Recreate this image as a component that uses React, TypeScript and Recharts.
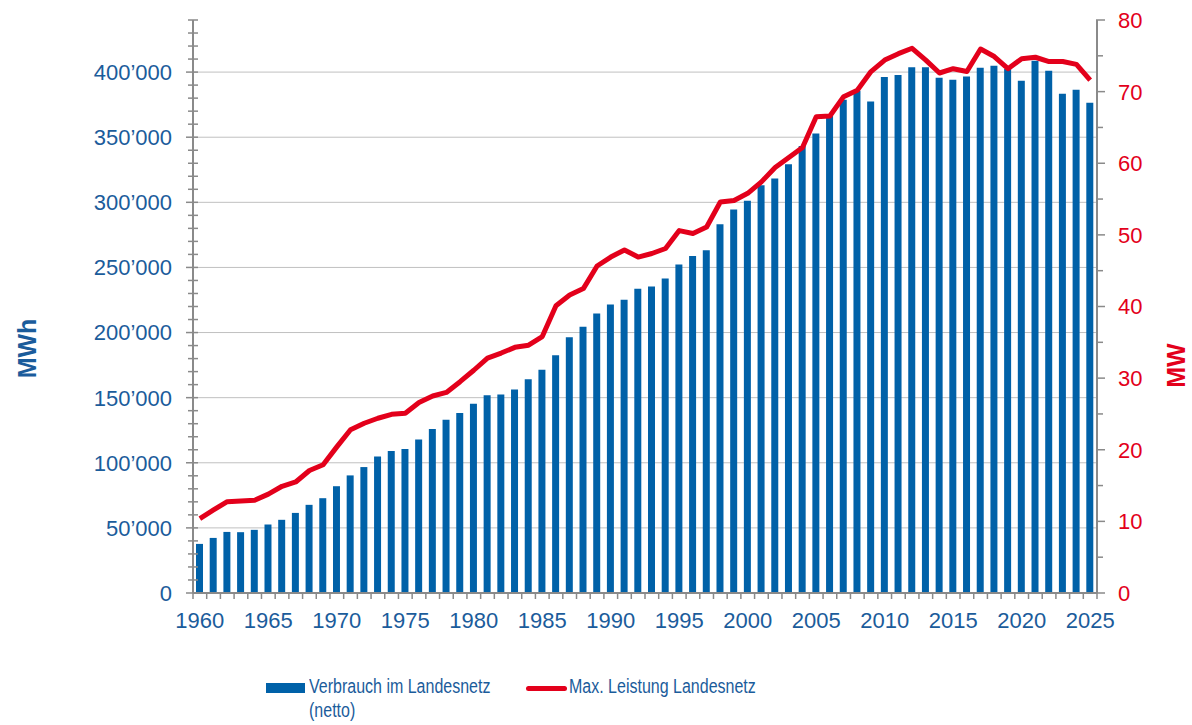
import React from 'react'
import {
  ComposedChart, Bar, Line, XAxis, YAxis, CartesianGrid
} from 'recharts'

// Stromverbrauch Landesnetz 1960-2025
const years = [
  1960, 1961, 1962, 1963, 1964, 1965, 1966, 1967, 1968, 1969,
  1970, 1971, 1972, 1973, 1974, 1975, 1976, 1977, 1978, 1979,
  1980, 1981, 1982, 1983, 1984, 1985, 1986, 1987, 1988, 1989,
  1990, 1991, 1992, 1993, 1994, 1995, 1996, 1997, 1998, 1999,
  2000, 2001, 2002, 2003, 2004, 2005, 2006, 2007, 2008, 2009,
  2010, 2011, 2012, 2013, 2014, 2015, 2016, 2017, 2018, 2019,
  2020, 2021, 2022, 2023, 2024, 2025,
]

// Verbrauch im Landesnetz (netto), MWh
const verbrauch = [
  37700, 42300, 46900, 46700, 48500, 52600, 56200, 61500, 67700, 72800,
  82000, 90300, 96700, 104900, 109000, 110500, 117900, 125900, 133100, 138200,
  145400, 151800, 152400, 156200, 164100, 171500, 182600, 196400, 204400, 214600,
  221500, 225200, 233600, 235400, 241500, 252300, 258700, 263100, 283100, 294400,
  301300, 313100, 318200, 329200, 343300, 352800, 366400, 378700, 385600, 377400,
  396200, 397800, 403800, 403800, 395600, 394100, 396700, 403300, 404900, 402300,
  393300, 408700, 401000, 383300, 386400, 376400,
]

// Max. Leistung Landesnetz, MW
const leistung = [
  10.4, 11.6, 12.75, 12.85, 12.95, 13.8, 14.9, 15.5, 17.1, 17.9,
  20.4, 22.8, 23.7, 24.4, 24.95, 25.1, 26.6, 27.5, 28.0, 29.5,
  31.1, 32.8, 33.5, 34.3, 34.6, 35.8, 40.1, 41.6, 42.5, 45.65,
  46.9, 47.9, 46.9, 47.4, 48.1, 50.6, 50.2, 51.1, 54.6, 54.8,
  55.8, 57.4, 59.4, 60.8, 62.2, 66.5, 66.6, 69.3, 70.2, 72.8,
  74.4, 75.3, 76.05, 74.4, 72.6, 73.2, 72.8, 75.95, 74.9, 73.2,
  74.6, 74.8, 74.2, 74.2, 73.8, 71.6,
]

const leftTicks = [
  0, 10000, 20000, 30000, 40000, 50000, 60000, 70000, 80000, 90000,
  100000, 110000, 120000, 130000, 140000, 150000, 160000, 170000, 180000, 190000,
  200000, 210000, 220000, 230000, 240000, 250000, 260000, 270000, 280000, 290000,
  300000, 310000, 320000, 330000, 340000, 350000, 360000, 370000, 380000, 390000,
  400000, 410000, 420000, 430000, 440000,
]
const leftGrid = [50000, 100000, 150000, 200000, 250000, 300000, 350000, 400000]
const rightTicks = [0, 5, 10, 15, 20, 25, 30, 35, 40, 45, 50, 55, 60, 65, 70, 75, 80]

const data = years.map((year, i) => ({ year, mwh: verbrauch[i], mw: leistung[i] }))

const BLUE_BAR = '#0061A8'
const BLUE_TXT = '#1B5C9B'
const RED = '#E3001B'
const AXIS = '#8A8A8A'
const FONT = '"Liberation Sans", Arial, sans-serif'

const fmtThousands = (v: number) => String(v).replace(/\B(?=(\d{3})+(?!\d))/g, '\u2019')

const LeftTick = ({ x, y, payload }: any) => {
  const v = payload.value
  const major = v % 50000 === 0
  return (
    <g>
      <line x1={x - (major ? 7 : 5)} x2={x + 5} y1={y} y2={y} stroke={AXIS} strokeWidth={1.5} />
      {major && v <= 400000 && (
        <text x={x - 21} y={y} dy="0.36em" textAnchor="end" fill={BLUE_TXT} fontSize={22} fontFamily={FONT}>
          {fmtThousands(v)}
        </text>
      )}
    </g>
  )
}

const RightTick = ({ x, y, payload }: any) => {
  const v = payload.value
  const major = v % 10 === 0
  return (
    <g>
      <line x1={x - 1} x2={x + (major ? 8 : 6)} y1={y} y2={y} stroke={AXIS} strokeWidth={1.5} />
      {major && (
        <text x={x + 21} y={y} dy="0.36em" textAnchor="start" fill={RED} fontSize={22} fontFamily={FONT}>
          {v}
        </text>
      )}
    </g>
  )
}

const YearTick = ({ x, y, payload, index }: any) => {
  const half = payload.offset || 904 / 66 / 2
  const last = index === years.length - 1
  return (
    <g>
      <line x1={x - half} x2={x - half} y1={y} y2={y + 6} stroke={AXIS} strokeWidth={1.5} />
      {last && <line x1={x + half} x2={x + half} y1={y} y2={y + 6} stroke={AXIS} strokeWidth={1.5} />}
      {payload.value % 5 === 0 && (
        <text x={x} y={y + 35} textAnchor="middle" fill={BLUE_TXT} fontSize={22} fontFamily={FONT}>
          {payload.value}
        </text>
      )}
    </g>
  )
}

const axisTitle = (text: string, color: string, dx: number, dy: number) => (props: any) => {
  const vb = props.viewBox || { x: 0, y: 0, width: 0, height: 0 }
  const cx = vb.x + dx
  const cy = vb.y + vb.height / 2 + dy
  return (
    <text
      x={cx} y={cy} transform={`rotate(-90 ${cx} ${cy})`}
      textAnchor="middle" dominantBaseline="central"
      fill={color} fontSize={25} fontWeight="bold" fontFamily={FONT}
    >
      {text}
    </text>
  )
}

// condensed look of the legend text (no narrow font installed)
const legendFont: React.CSSProperties = {
  position: 'absolute',
  fontFamily: FONT,
  fontSize: 20,
  lineHeight: '24px',
  color: BLUE_TXT,
  whiteSpace: 'nowrap',
  transform: 'scaleX(0.8)',
  transformOrigin: '0 0',
}

export default function App() {
  return (
    <div style={{ position: 'absolute', left: 0, top: 0, width: 1192, height: 725, background: '#fff' }}>
      <ComposedChart
        width={1192}
        height={725}
        data={data}
        margin={{ top: 20, right: 0, left: 0, bottom: 92 }}
      >
        <CartesianGrid
          xAxisId="x"
          yAxisId="left"
          vertical={false}
          horizontalValues={leftGrid}
          stroke="#C0C0C0"
          strokeWidth={1}
        />
        <XAxis
          xAxisId="x"
          dataKey="year"
          type="category"
          height={40}
          interval={0}
          tickSize={0}
          tickMargin={0}
          tickLine={false}
          axisLine={{ stroke: AXIS, strokeWidth: 2 }}
          tick={<YearTick />}
        />
        <XAxis
          xAxisId="top"
          dataKey="year"
          orientation="top"
          height={0}
          tick={false}
          tickLine={false}
          axisLine={{ stroke: AXIS, strokeWidth: 2 }}
        />
        <YAxis
          yAxisId="left"
          width={193}
          domain={[0, 440000]}
          ticks={leftTicks}
          interval={0}
          tickSize={0}
          tickMargin={0}
          tickLine={false}
          axisLine={{ stroke: AXIS, strokeWidth: 2 }}
          tick={<LeftTick />}
          label={axisTitle('MWh', BLUE_TXT, 27, 42)}
        />
        <YAxis
          yAxisId="right"
          orientation="right"
          width={95}
          domain={[0, 80]}
          ticks={rightTicks}
          interval={0}
          tickSize={0}
          tickMargin={0}
          tickLine={false}
          axisLine={{ stroke: AXIS, strokeWidth: 2 }}
          tick={<RightTick />}
          label={axisTitle('MW', RED, 79, 59)}
        />
        <Bar
          xAxisId="x"
          yAxisId="left"
          dataKey="mwh"
          fill={BLUE_BAR}
          barSize={7}
          isAnimationActive={false}
        />
        <Line
          xAxisId="x"
          yAxisId="right"
          type="linear"
          dataKey="mw"
          stroke={RED}
          strokeWidth={5}
          strokeLinejoin="round"
          dot={false}
          activeDot={false}
          isAnimationActive={false}
        />
      </ComposedChart>

      {/* legend */}
      <div style={{ position: 'absolute', left: 266, top: 683, width: 39, height: 10, background: BLUE_BAR }} />
      <div style={{ ...legendFont, left: 309, top: 674 }}>
        Verbrauch im Landesnetz<br />(netto)
      </div>
      <div style={{ position: 'absolute', left: 526, top: 686, width: 41, height: 5, borderRadius: 3, background: RED }} />
      <div style={{ ...legendFont, left: 569, top: 674 }}>Max. Leistung Landesnetz</div>
    </div>
  )
}
